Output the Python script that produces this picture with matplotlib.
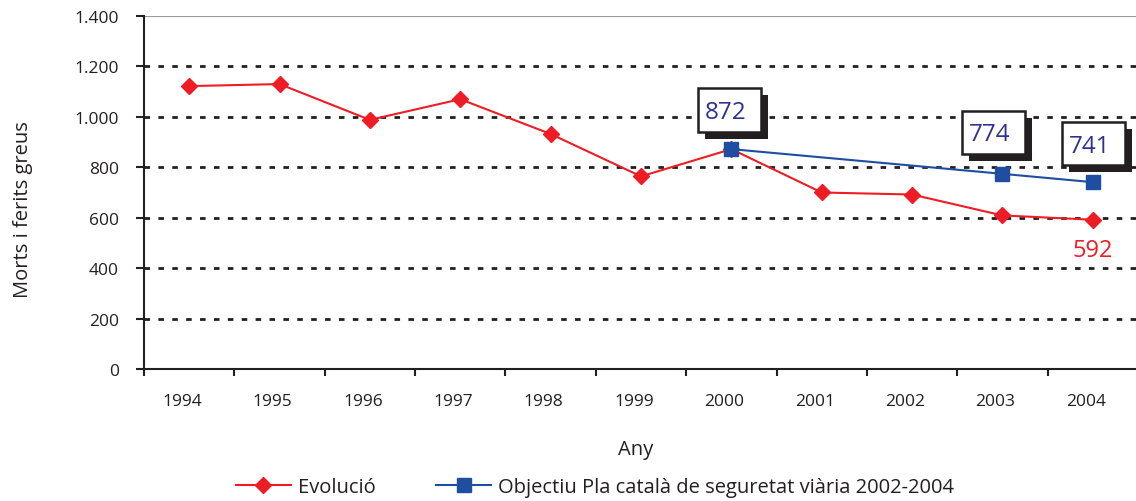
import matplotlib
matplotlib.use("Agg")
import matplotlib.pyplot as plt
from matplotlib.ticker import FuncFormatter, FixedLocator
from matplotlib.patches import Rectangle
from matplotlib.transforms import ScaledTranslation
import numpy as np

years = ["1994", "1995", "1996", "1997", "1998", "1999", "2000", "2001", "2002", "2003", "2004"]
evolucio = [1122, 1130, 988, 1070, 932, 764, 872, 700, 692, 609, 592]
objectiu_years = ["2000", "2003", "2004"]
objectiu = [872, 774, 741]
yticks = [0, 200, 400, 600, 800, 1000, 1200, 1400]

plt.rcParams['font.family'] = ['Open Sans', 'DejaVu Sans']

W, H = 1136, 502
fig = plt.figure(figsize=(W / 100, H / 100), dpi=100)
ax = fig.add_axes([144 / W, (H - 370) / H, 994 / W, (370 - 17) / H])

xi = list(range(len(years)))
ox = [years.index(y) for y in objectiu_years]

red = '#ee1c25'
blue = '#1f4ea1'
ink = '#231f20'

ax.plot(xi, evolucio, color=red, lw=1.5, marker='D', ms=8.5, mfc=red, mec=red,
        label='Evolució', zorder=3)
ax.plot(ox, objectiu, color=blue, lw=1.5, marker='s', ms=10.5, mfc=blue, mec=blue,
        label='Objectiu Pla català de seguretat viària 2002-2004', zorder=4)

ax.set_xlim(-0.5, len(years) - 0.5)
ax.set_ylim(0, 1400)
ax.set_yticks(yticks)
ax.yaxis.set_major_formatter(FuncFormatter(lambda v, p: f"{int(v):,}".replace(",", ".")))
ax.set_xticks(xi)
ax.set_xticklabels(years)
ax.xaxis.set_minor_locator(FixedLocator(np.arange(-0.5, len(years) - 1, 1.0)))
ax.tick_params(axis='x', which='major', length=0, pad=17, labelsize=12.5, colors=ink)
ax.tick_params(axis='x', which='minor', length=5, width=1.5, direction='out', color=ink)
ax.tick_params(axis='y', length=6, width=1.5, direction='out', pad=12, labelsize=12.5, colors=ink)
for lab in ax.get_xticklabels():
    lab.set_transform(lab.get_transform() + ScaledTranslation(-7 / 100, 0, fig.dpi_scale_trans))

for v in yticks[1:-1]:
    ax.axhline(v, color=ink, lw=2, ls=(0, (2, 3)), zorder=1)
ax.axhline(1400, color='#9a9a9a', lw=1.5, zorder=1)

for s in ['top', 'right']:
    ax.spines[s].set_visible(False)
for s in ['left', 'bottom']:
    ax.spines[s].set_linewidth(1.5)
    ax.spines[s].set_color(ink)

fig.text(636 / W, 1 - 450 / H, 'Any', ha='center', va='center', fontsize=14.5, color=ink)
fig.text(23 / W, 1 - 210 / H, 'Morts i ferits greus', ha='center', va='center',
         rotation=90, fontsize=14.5, color=ink)

# labelled boxes (pixels relative to the point): left, bottom, width, height
boxes = [(-33, 17, 63, 44), (-40, 20, 63, 43), (-31, 17, 63, 43)]
sh = 7
for (x, v), (bl, bb, bw, bh) in zip(zip(ox, objectiu), boxes):
    tr = fig.dpi_scale_trans + ScaledTranslation(x, v, ax.transData)
    shadow = Rectangle(((bl + sh) / 100, (bb - sh) / 100), bw / 100, bh / 100, transform=tr,
                       fc=ink, ec=ink, lw=0, zorder=5, clip_on=False)
    box = Rectangle((bl / 100, bb / 100), bw / 100, bh / 100, transform=tr,
                    fc='white', ec=ink, lw=1.8, zorder=6, clip_on=False)
    ax.add_patch(shadow)
    ax.add_patch(box)
    ax.text((bl + bw / 2 - 4) / 100, (bb + bh / 2 - 2) / 100, str(v), transform=tr,
            ha='center', va='center', fontsize=17.5, color='#2e3192', zorder=7)

ax.annotate(str(evolucio[-1]), (xi[-1], evolucio[-1]), xytext=(0, -13), textcoords='offset points',
            ha='center', va='top', fontsize=17, color=red)

leg = fig.legend(loc='center', bbox_to_anchor=(595 / W, 1 - 488 / H), ncol=2, frameon=False,
                 fontsize=14.5, handlelength=2.73, handletextpad=0.35, columnspacing=3.0,
                 borderpad=0, borderaxespad=0)
for t in leg.get_texts():
    t.set_color(ink)

fig.savefig('out.png', dpi=100)
